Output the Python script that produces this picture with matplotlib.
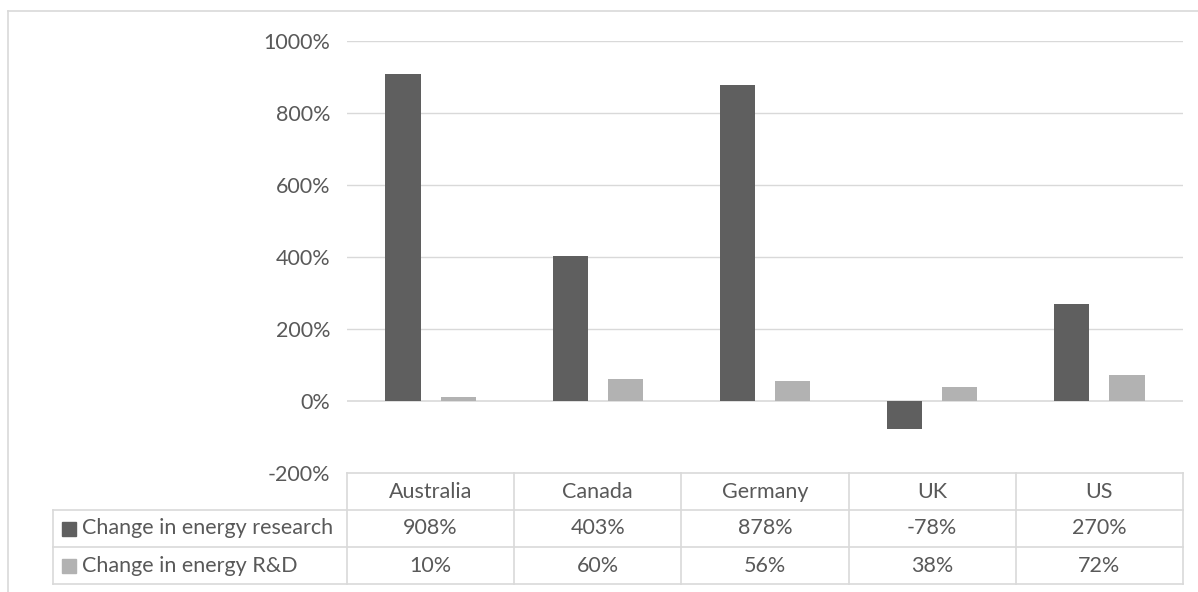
import matplotlib
matplotlib.use("Agg")
import matplotlib.pyplot as plt
from matplotlib.lines import Line2D
from matplotlib.patches import Rectangle
import numpy as np

countries = ["Australia", "Canada", "Germany", "UK", "US"]
series_names = ["Change in energy research", "Change in energy R&D"]
research_change = [908, 403, 878, -78, 270]
rnd_change = [10, 60, 56, 38, 72]
y_ticks = [-200, 0, 200, 400, 600, 800, 1000]

W, H = 1198, 592
DARK = "#5f5f5f"
LIGHT = "#b2b2b2"
GRID = "#d9d9d9"
TEXT = "#595959"

plt.rcParams["font.family"] = ["Lato", "DejaVu Sans"]

fig = plt.figure(figsize=(W / 100, H / 100), dpi=100)


def fx(px):
    return px / W


def fy(py):
    return 1 - py / H


# plot area
x0, x1 = 347, 1183
y_top, y_bot = 41, 473
ax = fig.add_axes([fx(x0), fy(y_bot), fx(x1) - fx(x0), fy(y_top) - fy(y_bot)])

x = np.arange(len(countries))
bw = 0.21
ax.bar(x - 0.165, research_change, width=bw, color=DARK, zorder=3)
ax.bar(x + 0.165, rnd_change, width=bw, color=LIGHT, zorder=3)

fs = 15.5
ax.set_xlim(-0.5, len(countries) - 0.5)
ax.set_ylim(-200, 1000)
ax.set_yticks(y_ticks)
ax.set_yticklabels([f"{t}%" for t in y_ticks], fontsize=fs, color=TEXT)
ax.tick_params(axis="y", length=0, pad=12)
ax.set_xticks([])
for s in ax.spines.values():
    s.set_visible(False)
for t in y_ticks[1:]:
    ax.axhline(t, color=GRID, lw=1.2 if t == 0 else 1.0, zorder=1)

# outer chart frame
fig.add_artist(Line2D([fx(8), fx(8)], [fy(11), fy(H)], color=GRID, lw=1.2))
fig.add_artist(Line2D([fx(8), fx(W)], [fy(11), fy(11)], color=GRID, lw=1.2))

# data table
col_edges = np.linspace(x0, x1, len(countries) + 1)
row_edges = [473, 510, 547, 584]
tbl_left = 53


def hline(y, xa, xb):
    fig.add_artist(Line2D([fx(xa), fx(xb)], [fy(y), fy(y)], color=GRID, lw=1.2))


def vline(xp, ya, yb):
    fig.add_artist(Line2D([fx(xp), fx(xp)], [fy(ya), fy(yb)], color=GRID, lw=1.2))


hline(row_edges[0], x0, x1)
for y in row_edges[1:]:
    hline(y, tbl_left, x1)
vline(tbl_left, row_edges[1], row_edges[-1])
for xe in col_edges:
    vline(xe, row_edges[0], row_edges[-1])

for i, c in enumerate(countries):
    cx = (col_edges[i] + col_edges[i + 1]) / 2
    fig.text(fx(cx), fy((row_edges[0] + row_edges[1]) / 2), c,
             ha="center", va="center", fontsize=fs, color=TEXT)
    fig.text(fx(cx), fy((row_edges[1] + row_edges[2]) / 2), f"{research_change[i]}%",
             ha="center", va="center", fontsize=fs, color=TEXT)
    fig.text(fx(cx), fy((row_edges[2] + row_edges[3]) / 2), f"{rnd_change[i]}%",
             ha="center", va="center", fontsize=fs, color=TEXT)

for r, (name, col) in enumerate(zip(series_names, [DARK, LIGHT])):
    yc = (row_edges[r + 1] + row_edges[r + 2]) / 2
    fig.add_artist(Rectangle((fx(62), fy(yc + 7)), fx(14), fy(0) - fy(14),
                             color=col, transform=fig.transFigure))
    fig.text(fx(82), fy(yc), name, ha="left", va="center", fontsize=fs, color=TEXT)

fig.savefig("out.png", dpi=100, facecolor="white")
